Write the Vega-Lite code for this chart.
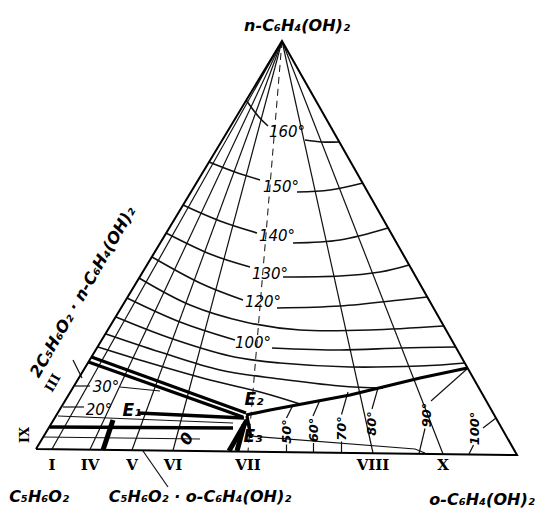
{
  "$schema": "https://vega.github.io/schema/vega-lite/v6.json",
  "width": 543,
  "height": 511,
  "autosize": {"type": "fit", "contains": "padding"},
  "padding": 0,
  "background": "white",
  "config": {"view": {"stroke": null}},
  "datasets": {
    "lines": [
      {"s": "edge", "k": "edge", "o": 1, "x": 0, "y": 0.2},
      {"s": "edge", "k": "edge", "o": 2, "x": 96.2, "y": -1},
      {"s": "edge", "k": "edge", "o": 3, "x": 49.2, "y": 81.8},
      {"s": "edge", "k": "edge", "o": 4, "x": 0, "y": 0.2},

      {"s": "i160a", "k": "iso", "o": 1, "x": 42, "y": 70},
      {"s": "i160a", "k": "iso", "o": 2, "x": 44.4, "y": 66.8},
      {"s": "i160a", "k": "iso", "o": 3, "x": 46.4, "y": 64.8},
      {"s": "i160b", "k": "iso", "o": 1, "x": 53.8, "y": 62},
      {"s": "i160b", "k": "iso", "o": 2, "x": 57.2, "y": 61.6},
      {"s": "i160b", "k": "iso", "o": 3, "x": 60.6, "y": 61.6},
      {"s": "i150a", "k": "iso", "o": 1, "x": 34.6, "y": 57.6},
      {"s": "i150a", "k": "iso", "o": 2, "x": 39.8, "y": 55.6},
      {"s": "i150a", "k": "iso", "o": 3, "x": 44.8, "y": 54},
      {"s": "i150b", "k": "iso", "o": 1, "x": 52.2, "y": 51.6},
      {"s": "i150b", "k": "iso", "o": 2, "x": 58.8, "y": 52},
      {"s": "i150b", "k": "iso", "o": 3, "x": 65.4, "y": 53.4},
      {"s": "i140a", "k": "iso", "o": 1, "x": 29.4, "y": 49},
      {"s": "i140a", "k": "iso", "o": 2, "x": 36.8, "y": 45.8},
      {"s": "i140a", "k": "iso", "o": 3, "x": 44.2, "y": 43.4},
      {"s": "i140b", "k": "iso", "o": 1, "x": 51.4, "y": 41.4},
      {"s": "i140b", "k": "iso", "o": 2, "x": 60.8, "y": 42},
      {"s": "i140b", "k": "iso", "o": 3, "x": 70.4, "y": 44.4},
      {"s": "i130a", "k": "iso", "o": 1, "x": 26, "y": 43.4},
      {"s": "i130a", "k": "iso", "o": 2, "x": 34.8, "y": 39.2},
      {"s": "i130a", "k": "iso", "o": 3, "x": 42.8, "y": 36.6},
      {"s": "i130b", "k": "iso", "o": 1, "x": 49.4, "y": 34.6},
      {"s": "i130b", "k": "iso", "o": 2, "x": 60.8, "y": 34.8},
      {"s": "i130b", "k": "iso", "o": 3, "x": 68.8, "y": 35.6},
      {"s": "i130b", "k": "iso", "o": 4, "x": 74.6, "y": 37},
      {"s": "i120a", "k": "iso", "o": 1, "x": 23.2, "y": 38.6},
      {"s": "i120a", "k": "iso", "o": 2, "x": 32.8, "y": 33.4},
      {"s": "i120a", "k": "iso", "o": 3, "x": 41.4, "y": 30},
      {"s": "i120b", "k": "iso", "o": 1, "x": 48.2, "y": 28.4},
      {"s": "i120b", "k": "iso", "o": 2, "x": 60.8, "y": 28.8},
      {"s": "i120b", "k": "iso", "o": 3, "x": 72.8, "y": 30},
      {"s": "i120b", "k": "iso", "o": 4, "x": 78.2, "y": 30.6},
      {"s": "i110", "k": "iso", "o": 1, "x": 20.6, "y": 34.4},
      {"s": "i110", "k": "iso", "o": 2, "x": 30.8, "y": 29},
      {"s": "i110", "k": "iso", "o": 3, "x": 41.8, "y": 25.6},
      {"s": "i110", "k": "iso", "o": 4, "x": 52.8, "y": 24},
      {"s": "i110", "k": "iso", "o": 5, "x": 66.8, "y": 24},
      {"s": "i110", "k": "iso", "o": 6, "x": 81.4, "y": 24.8},
      {"s": "i100a", "k": "iso", "o": 1, "x": 18.2, "y": 30.4},
      {"s": "i100a", "k": "iso", "o": 2, "x": 28.8, "y": 25.6},
      {"s": "i100a", "k": "iso", "o": 3, "x": 39.8, "y": 22},
      {"s": "i100b", "k": "iso", "o": 1, "x": 47.2, "y": 20.4},
      {"s": "i100b", "k": "iso", "o": 2, "x": 60.8, "y": 20},
      {"s": "i100b", "k": "iso", "o": 3, "x": 72.8, "y": 20.4},
      {"s": "i100b", "k": "iso", "o": 4, "x": 84, "y": 20.6},
      {"s": "i90", "k": "iso", "o": 1, "x": 16, "y": 26.6},
      {"s": "i90", "k": "iso", "o": 2, "x": 26.8, "y": 22.4},
      {"s": "i90", "k": "iso", "o": 3, "x": 38.8, "y": 18.8},
      {"s": "i90", "k": "iso", "o": 4, "x": 48.8, "y": 17.4},
      {"s": "i90", "k": "iso", "o": 5, "x": 62.8, "y": 16.6},
      {"s": "i90", "k": "iso", "o": 6, "x": 76.8, "y": 16.8},
      {"s": "i90", "k": "iso", "o": 7, "x": 85.8, "y": 17.4},
      {"s": "i80", "k": "iso", "o": 1, "x": 14, "y": 23.2},
      {"s": "i80", "k": "iso", "o": 2, "x": 24.8, "y": 19.6},
      {"s": "i80", "k": "iso", "o": 3, "x": 36.8, "y": 16},
      {"s": "i80", "k": "iso", "o": 4, "x": 48.8, "y": 14.2},
      {"s": "i80", "k": "iso", "o": 5, "x": 60.8, "y": 12.8},
      {"s": "i80", "k": "iso", "o": 6, "x": 69.4, "y": 12.4},
      {"s": "i70", "k": "iso", "o": 1, "x": 12.4, "y": 20.6},
      {"s": "i70", "k": "iso", "o": 2, "x": 22.8, "y": 17.4},
      {"s": "i70", "k": "iso", "o": 3, "x": 34.8, "y": 14},
      {"s": "i70", "k": "iso", "o": 4, "x": 44.8, "y": 11.6},
      {"s": "i70", "k": "iso", "o": 5, "x": 52.8, "y": 9.2},

      {"s": "sI", "k": "thin", "o": 1, "x": 49.2, "y": 81.8},
      {"s": "sI", "k": "thin", "o": 2, "x": 3.2, "y": 0.2},
      {"s": "sIV", "k": "thin", "o": 1, "x": 49.2, "y": 81.8},
      {"s": "sIV", "k": "thin", "o": 2, "x": 10.8, "y": 0.1},
      {"s": "sV", "k": "thin", "o": 1, "x": 49.2, "y": 81.8},
      {"s": "sV", "k": "thin", "o": 2, "x": 19.2, "y": 0},
      {"s": "sVI", "k": "thin", "o": 1, "x": 49.2, "y": 81.8},
      {"s": "sVI", "k": "thin", "o": 2, "x": 27.4, "y": -0.1},
      {"s": "sVIII", "k": "thin", "o": 1, "x": 49.2, "y": 81.8},
      {"s": "sVIII", "k": "thin", "o": 2, "x": 67.4, "y": -0.6},
      {"s": "sX", "k": "thin", "o": 1, "x": 49.2, "y": 81.8},
      {"s": "sX", "k": "thin", "o": 2, "x": 81.4, "y": -0.8},
      {"s": "sVII", "k": "dash", "o": 1, "x": 49.2, "y": 81.8},
      {"s": "sVII", "k": "dash", "o": 2, "x": 42.4, "y": -0.3},

      {"s": "l30a", "k": "thin", "o": 1, "x": 7.8, "y": 12.8},
      {"s": "l30a", "k": "thin", "o": 2, "x": 10.8, "y": 12.8},
      {"s": "l30b", "k": "thin", "o": 1, "x": 16.8, "y": 12.6},
      {"s": "l30b", "k": "thin", "o": 2, "x": 24.8, "y": 11.8},
      {"s": "l20", "k": "thin", "o": 1, "x": 5.4, "y": 8.6},
      {"s": "l20", "k": "thin", "o": 2, "x": 9.6, "y": 8.6},
      {"s": "l415", "k": "thin", "o": 1, "x": 4.4, "y": 6.8},
      {"s": "l415", "k": "thin", "o": 2, "x": 39.4, "y": 5.4},
      {"s": "l437", "k": "thin", "o": 1, "x": 1.4, "y": 2.6},
      {"s": "l437", "k": "thin", "o": 2, "x": 32.8, "y": 2.2},
      {"s": "lE3", "k": "thin", "o": 1, "x": 42.8, "y": 2.8},
      {"s": "lE3", "k": "thin", "o": 2, "x": 75.8, "y": 0.2},
      {"s": "lE3", "k": "thin", "o": 3, "x": 77.8, "y": -0.6},
      {"s": "c50", "k": "thin", "o": 1, "x": 51.4, "y": 9},
      {"s": "c50", "k": "thin", "o": 2, "x": 50.1, "y": 6.4},
      {"s": "c60", "k": "thin", "o": 1, "x": 56.8, "y": 10},
      {"s": "c60", "k": "thin", "o": 2, "x": 55.4, "y": 6.8},
      {"s": "c70", "k": "thin", "o": 1, "x": 62.4, "y": 11.6},
      {"s": "c70", "k": "thin", "o": 2, "x": 61.1, "y": 7.1},
      {"s": "c80", "k": "thin", "o": 1, "x": 68.4, "y": 12.4},
      {"s": "c80", "k": "thin", "o": 2, "x": 67.2, "y": 8.2},
      {"s": "c90", "k": "thin", "o": 1, "x": 86.2, "y": 16.2},
      {"s": "c90", "k": "thin", "o": 2, "x": 79, "y": 9.8},
      {"s": "c100", "k": "thin", "o": 1, "x": 92, "y": 6.4},
      {"s": "c100", "k": "thin", "o": 2, "x": 89.4, "y": 4.4},
      {"s": "b50", "k": "thin", "o": 1, "x": 50.1, "y": 1.1},
      {"s": "b50", "k": "thin", "o": 2, "x": 50.1, "y": -0.4},
      {"s": "b60", "k": "thin", "o": 1, "x": 55.5, "y": 1.4},
      {"s": "b60", "k": "thin", "o": 2, "x": 55.5, "y": -0.5},
      {"s": "b70", "k": "thin", "o": 1, "x": 61.1, "y": 1.7},
      {"s": "b70", "k": "thin", "o": 2, "x": 61.1, "y": -0.5},
      {"s": "b90", "k": "thin", "o": 1, "x": 77.8, "y": 4.3},
      {"s": "b90", "k": "thin", "o": 2, "x": 76.6, "y": -0.7},
      {"s": "b100", "k": "thin", "o": 1, "x": 87.5, "y": 1},
      {"s": "b100", "k": "thin", "o": 2, "x": 86.6, "y": -0.8},
      {"s": "lead1", "k": "thin", "o": 1, "x": 7.4, "y": 18},
      {"s": "lead1", "k": "thin", "o": 2, "x": 9.2, "y": 14.4},
      {"s": "lead2", "k": "thin", "o": 1, "x": 21.4, "y": -0.2},
      {"s": "lead2", "k": "thin", "o": 2, "x": 26.4, "y": -7.4},

      {"s": "TL1A", "k": "thick", "o": 1, "x": 11.1, "y": 18.6},
      {"s": "TL1A", "k": "thick", "o": 2, "x": 42, "y": 7.4},
      {"s": "TL1B", "k": "thick", "o": 1, "x": 10.5, "y": 17.6},
      {"s": "TL1B", "k": "thick", "o": 2, "x": 41.4, "y": 6.6},
      {"s": "TL2", "k": "thick", "o": 1, "x": 42, "y": 7},
      {"s": "TL2", "k": "thick", "o": 2, "x": 46.8, "y": 8},
      {"s": "TL2", "k": "thick", "o": 3, "x": 62.8, "y": 11},
      {"s": "TL2", "k": "thick", "o": 4, "x": 76.8, "y": 14.4},
      {"s": "TL2", "k": "thick", "o": 5, "x": 86.3, "y": 16.4},
      {"s": "E1E2", "k": "thick", "o": 1, "x": 20.4, "y": 7.4},
      {"s": "E1E2", "k": "thick", "o": 2, "x": 41.6, "y": 6.4},
      {"s": "IX", "k": "thick", "o": 1, "x": 2.7, "y": 4.6},
      {"s": "IX", "k": "thick", "o": 2, "x": 39.4, "y": 4.4},
      {"s": "E2E3", "k": "thick", "o": 1, "x": 42.2, "y": 6.8},
      {"s": "E2E3", "k": "thick", "o": 2, "x": 43, "y": 2.4},
      {"s": "bIV", "k": "bar", "o": 1, "x": 15.4, "y": 6},
      {"s": "bIV", "k": "bar", "o": 2, "x": 13.4, "y": 0},
      {"s": "bVII", "k": "bar", "o": 1, "x": 42.2, "y": 6},
      {"s": "bVII", "k": "bar", "o": 2, "x": 38.6, "y": -0.2},
      {"s": "bVII2", "k": "bar", "o": 1, "x": 41.6, "y": 5},
      {"s": "bVII2", "k": "bar", "o": 2, "x": 40.2, "y": -0.2}
    ],
    "labels": [
      {"g": "name", "t": "n-C₆H₄(OH)₂", "x": 52.2, "y": 84.8},
      {"g": "name", "t": "C₅H₆O₂", "x": 0.6, "y": -9.4},
      {"g": "name", "t": "C₅H₆O₂ · o-C₆H₄(OH)₂", "x": 32.8, "y": -9.4},
      {"g": "name", "t": "o-C₆H₄(OH)₂", "x": 89.2, "y": -10},
      {"g": "nameRot", "t": "2C₅H₆O₂ · n-C₆H₄(OH)₂", "x": 9.4, "y": 31.6},
      {"g": "temp", "t": "160°", "x": 50.2, "y": 63.6},
      {"g": "temp", "t": "150°", "x": 49, "y": 52.6},
      {"g": "temp", "t": "140°", "x": 48.2, "y": 42.8},
      {"g": "temp", "t": "130°", "x": 46.8, "y": 35.2},
      {"g": "temp", "t": "120°", "x": 45.4, "y": 29.6},
      {"g": "temp", "t": "100°", "x": 43.4, "y": 21.4},
      {"g": "temp", "t": "30°", "x": 14, "y": 12.6},
      {"g": "temp", "t": "20°", "x": 12.6, "y": 8},
      {"g": "tempRot", "t": "50°", "x": 50.1, "y": 3.7},
      {"g": "tempRot", "t": "60°", "x": 55.5, "y": 4},
      {"g": "tempRot", "t": "70°", "x": 61.1, "y": 4.3},
      {"g": "tempRot", "t": "80°", "x": 67.1, "y": 5.3},
      {"g": "tempRot", "t": "90°", "x": 78.1, "y": 7},
      {"g": "tempRot", "t": "100°", "x": 87.8, "y": 4.3},
      {"g": "eut", "t": "E₁", "x": 19.2, "y": 7.8},
      {"g": "eut", "t": "E₂", "x": 43.6, "y": 10},
      {"g": "eut", "t": "E₃", "x": 43.4, "y": 2.6},
      {"g": "small", "t": "0", "x": 30.2, "y": 2.2},
      {"g": "roman", "t": "I", "x": 3.2, "y": -2.9},
      {"g": "roman", "t": "IV", "x": 10.8, "y": -2.9},
      {"g": "roman", "t": "V", "x": 19.2, "y": -2.9},
      {"g": "roman", "t": "VI", "x": 27.4, "y": -2.9},
      {"g": "roman", "t": "VII", "x": 42.4, "y": -2.9},
      {"g": "roman", "t": "VIII", "x": 67.4, "y": -2.9},
      {"g": "roman", "t": "X", "x": 81.4, "y": -2.9},
      {"g": "romanEdge", "t": "III", "x": 3.4, "y": 13.4},
      {"g": "romanSide", "t": "IX", "x": -2.2, "y": 3}
    ]
  },
  "encoding": {
    "x": {"field": "x", "type": "quantitative", "scale": {"domain": [-7.2, 101.4], "nice": false, "zero": false}, "axis": null},
    "y": {"field": "y", "type": "quantitative", "scale": {"domain": [-12.2, 90], "nice": false, "zero": false}, "axis": null}
  },
  "layer": [
    {
      "data": {"name": "lines"},
      "transform": [{"filter": "datum.k === 'iso'"}],
      "mark": {"type": "line", "interpolate": "cardinal", "stroke": "#111", "strokeWidth": 1.6},
      "encoding": {"detail": {"field": "s", "type": "nominal"}, "order": {"field": "o", "type": "quantitative"}}
    },
    {
      "data": {"name": "lines"},
      "transform": [{"filter": "datum.k === 'thin'"}],
      "mark": {"type": "line", "stroke": "#111", "strokeWidth": 1.2},
      "encoding": {"detail": {"field": "s", "type": "nominal"}, "order": {"field": "o", "type": "quantitative"}}
    },
    {
      "data": {"name": "lines"},
      "transform": [{"filter": "datum.k === 'dash'"}],
      "mark": {"type": "line", "stroke": "#111", "strokeWidth": 1, "strokeDash": [7, 5]},
      "encoding": {"detail": {"field": "s", "type": "nominal"}, "order": {"field": "o", "type": "quantitative"}}
    },
    {
      "data": {"name": "lines"},
      "transform": [{"filter": "datum.k === 'edge'"}],
      "mark": {"type": "line", "stroke": "#000", "strokeWidth": 2, "strokeJoin": "miter"},
      "encoding": {"detail": {"field": "s", "type": "nominal"}, "order": {"field": "o", "type": "quantitative"}}
    },
    {
      "data": {"name": "lines"},
      "transform": [{"filter": "datum.k === 'thick'"}],
      "mark": {"type": "line", "stroke": "#000", "strokeWidth": 3.3},
      "encoding": {"detail": {"field": "s", "type": "nominal"}, "order": {"field": "o", "type": "quantitative"}}
    },
    {
      "data": {"name": "lines"},
      "transform": [{"filter": "datum.k === 'bar'"}],
      "mark": {"type": "line", "stroke": "#000", "strokeWidth": 5},
      "encoding": {"detail": {"field": "s", "type": "nominal"}, "order": {"field": "o", "type": "quantitative"}}
    },
    {
      "data": {"name": "labels"},
      "transform": [{"filter": "datum.g === 'name'"}],
      "mark": {"type": "text", "font": "DejaVu Sans", "fontStyle": "italic", "fontWeight": "bold", "fontSize": 16, "align": "center", "baseline": "middle", "color": "#000"},
      "encoding": {"text": {"field": "t"}}
    },
    {
      "data": {"name": "labels"},
      "transform": [{"filter": "datum.g === 'nameRot'"}],
      "mark": {"type": "text", "font": "DejaVu Sans", "fontStyle": "italic", "fontWeight": "bold", "fontSize": 16, "align": "center", "baseline": "middle", "angle": 300, "color": "#000"},
      "encoding": {"text": {"field": "t"}}
    },
    {
      "data": {"name": "labels"},
      "transform": [{"filter": "datum.g === 'temp'"}],
      "mark": {"type": "text", "font": "DejaVu Sans", "fontStyle": "italic", "fontSize": 15, "align": "center", "baseline": "middle", "color": "#000"},
      "encoding": {"text": {"field": "t"}}
    },
    {
      "data": {"name": "labels"},
      "transform": [{"filter": "datum.g === 'tempRot'"}],
      "mark": {"type": "text", "font": "DejaVu Sans", "fontStyle": "italic", "fontWeight": "bold", "fontSize": 13, "align": "center", "baseline": "middle", "angle": 270, "color": "#000"},
      "encoding": {"text": {"field": "t"}}
    },
    {
      "data": {"name": "labels"},
      "transform": [{"filter": "datum.g === 'eut'"}],
      "mark": {"type": "text", "font": "DejaVu Sans", "fontStyle": "italic", "fontWeight": "bold", "fontSize": 17, "align": "center", "baseline": "middle", "color": "#000"},
      "encoding": {"text": {"field": "t"}}
    },
    {
      "data": {"name": "labels"},
      "transform": [{"filter": "datum.g === 'small'"}],
      "mark": {"type": "text", "font": "DejaVu Sans", "fontStyle": "italic", "fontWeight": "bold", "fontSize": 16, "align": "center", "baseline": "middle", "angle": 300, "color": "#000"},
      "encoding": {"text": {"field": "t"}}
    },
    {
      "data": {"name": "labels"},
      "transform": [{"filter": "datum.g === 'roman'"}],
      "mark": {"type": "text", "font": "DejaVu Serif", "fontWeight": "bold", "fontSize": 15, "align": "center", "baseline": "middle", "color": "#000"},
      "encoding": {"text": {"field": "t"}}
    },
    {
      "data": {"name": "labels"},
      "transform": [{"filter": "datum.g === 'romanEdge'"}],
      "mark": {"type": "text", "font": "DejaVu Serif", "fontWeight": "bold", "fontSize": 13, "align": "center", "baseline": "middle", "angle": 300, "color": "#000"},
      "encoding": {"text": {"field": "t"}}
    },
    {
      "data": {"name": "labels"},
      "transform": [{"filter": "datum.g === 'romanSide'"}],
      "mark": {"type": "text", "font": "DejaVu Serif", "fontWeight": "bold", "fontSize": 13, "align": "center", "baseline": "middle", "angle": 270, "color": "#000"},
      "encoding": {"text": {"field": "t"}}
    }
  ]
}
